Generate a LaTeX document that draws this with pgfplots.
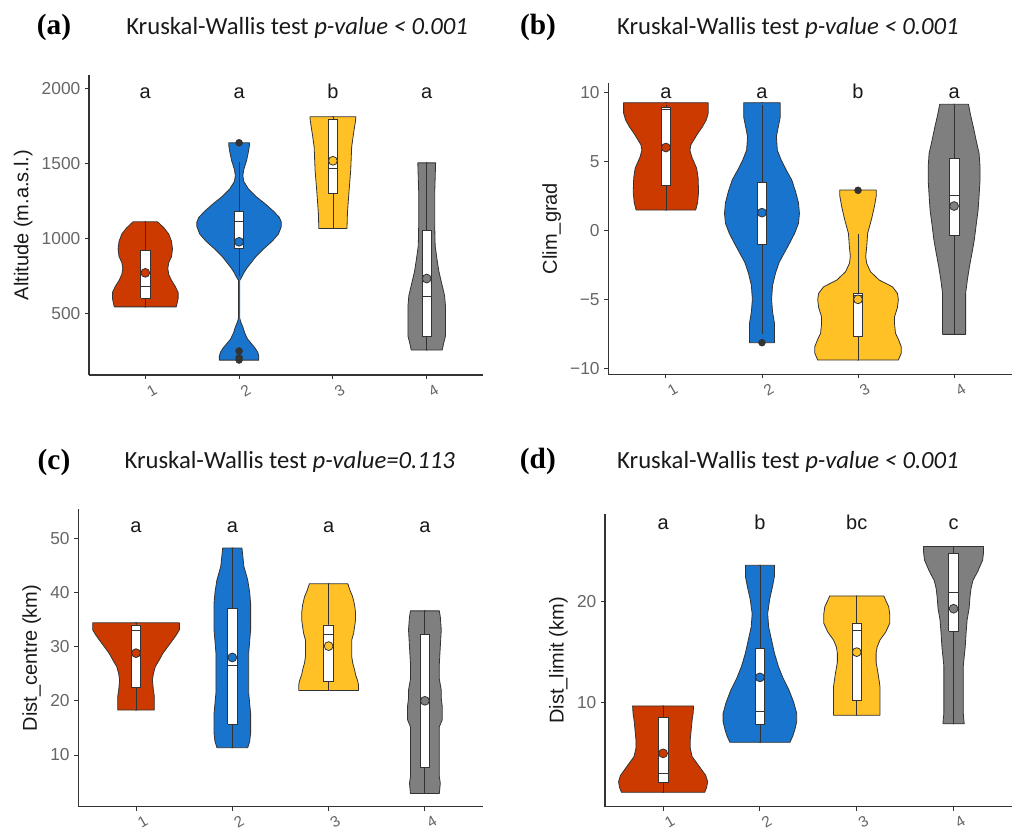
\documentclass[border=0pt]{standalone}
\usepackage{fontspec}
\setmainfont{Liberation Sans}
\newfontfamily\calfont{Carlito}
\newfontfamily\serfont{Liberation Serif}
\usepackage{pgfplots}
\pgfplotsset{compat=1.18}
\usepackage{pgfplotstable}

\definecolor{cR}{HTML}{CC3A00}
\definecolor{cB}{HTML}{1874CD}
\definecolor{cY}{HTML}{FFC125}
\definecolor{cG}{HTML}{7F7F7F}
\definecolor{ink}{HTML}{333333}

% violin outlines: y and half width (first/last rows close the half at the centre)
% ---- (a) Altitude
\pgfplotstableread{
y w
544 -0.01
544 0.33
570 0.34
600 0.35
640 0.35
680 0.32
720 0.28
760 0.25
800 0.24
840 0.25
880 0.28
930 0.29
980 0.28
1030 0.25
1070 0.2
1100 0.15
1111 0.13
1111 -0.01
}\vAa
\pgfplotstableread{
y w
189 -0.01
189 0.21
215 0.21
240 0.2
270 0.17
300 0.13
330 0.09
370 0.06
410 0.04
440 0.02
470 0.005
720 0.005
745 0.03
770 0.05
800 0.08
840 0.13
880 0.18
930 0.26
980 0.35
1030 0.42
1080 0.45
1110 0.45
1140 0.43
1180 0.37
1230 0.28
1280 0.18
1330 0.1
1380 0.05
1420 0.04
1460 0.05
1520 0.08
1580 0.1
1620 0.11
1638 0.11
1638 -0.01
}\vAb
\pgfplotstableread{
y w
1067 -0.01
1067 0.15
1170 0.155
1300 0.17
1456 0.19
1611 0.2
1700 0.22
1780 0.24
1811 0.245
1811 -0.01
}\vAc
\pgfplotstableread{
y w
256 -0.01
256 0.165
300 0.18
350 0.2
450 0.2
550 0.2
620 0.19
700 0.16
780 0.13
860 0.11
950 0.09
1100 0.085
1300 0.085
1504 0.095
1504 -0.01
}\vAd
% ---- (b) Clim_grad
\pgfplotstableread{
y w
1.47 -0.01
1.47 0.31
2.0 0.33
2.8 0.34
3.8 0.335
4.5 0.32
5.3 0.27
5.8 0.25
6.2 0.26
7.0 0.33
7.5 0.38
8.0 0.42
8.48 0.44
9.25 0.44
9.25 -0.01
}\vBa
\pgfplotstableread{
y w
-8.14 -0.01
-8.14 0.13
-7.5 0.13
-6.74 0.13
-5.9 0.11
-5.0 0.1
-4.0 0.11
-3.12 0.14
-2.3 0.18
-1.67 0.23
-0.9 0.29
-0.22 0.34
0.5 0.38
1.23 0.39
2.0 0.38
2.8 0.35
3.65 0.31
4.4 0.25
5.1 0.2
5.8 0.16
6.79 0.15
7.5 0.17
8.2 0.19
9.25 0.19
9.25 -0.01
}\vBb
\pgfplotstableread{
y w
-9.4 -0.01
-9.4 0.42
-8.9 0.45
-8.43 0.45
-7.9 0.42
-7.46 0.39
-6.8 0.38
-6.26 0.38
-5.6 0.41
-5.0 0.42
-4.57 0.41
-4.1 0.36
-3.6 0.22
-3.0 0.13
-2.4 0.09
-1.9 0.08
-1.2 0.09
-0.22 0.1
0.8 0.14
1.71 0.17
2.5 0.19
2.92 0.19
2.92 -0.01
}\vBc
\pgfplotstableread{
y w
-7.54 -0.01
-7.54 0.12
-5.5 0.12
-4.57 0.12
-3.5 0.14
-2.63 0.16
-1.5 0.19
-0.7 0.21
0.4 0.23
1.47 0.25
2.5 0.26
3.65 0.27
4.6 0.27
5.58 0.26
6.5 0.23
7.5 0.2
8.4 0.17
9.13 0.15
9.13 -0.01
}\vBd
% ---- (c) Dist_centre
\pgfplotstableread{
y w
18.3 -0.01
18.3 0.19
19.5 0.19
20.8 0.19
22.0 0.18
23.8 0.17
25.0 0.18
26.3 0.2
27.5 0.24
28.8 0.28
30.0 0.33
31.2 0.38
32.2 0.42
33.1 0.45
34.4 0.45
34.4 -0.01
}\vCa
\pgfplotstableread{
y w
11.35 -0.01
11.35 0.16
12.5 0.18
14.0 0.19
16.0 0.19
17.7 0.19
19.5 0.18
21.5 0.17
23.8 0.17
26.0 0.17
28.8 0.17
31.0 0.18
33.1 0.19
35.5 0.19
38.0 0.19
40.0 0.18
42.3 0.16
44.8 0.12
46.5 0.11
48.2 0.1
48.2 -0.01
}\vCb
\pgfplotstableread{
y w
21.9 -0.01
21.9 0.31
23.0 0.31
23.8 0.3
24.8 0.28
25.7 0.27
27.0 0.25
28.2 0.24
29.7 0.24
31.2 0.24
32.5 0.26
33.7 0.27
35.0 0.28
36.2 0.28
37.7 0.27
39.2 0.25
40.5 0.22
41.6 0.2
41.6 -0.01
}\vCc
\pgfplotstableread{
y w
2.9 -0.01
2.9 0.15
4.8 0.16
6.0 0.15
8.5 0.15
12.0 0.15
15.2 0.15
16.5 0.18
17.7 0.18
19.0 0.18
20.5 0.17
22.0 0.17
24.0 0.15
26.9 0.15
30.0 0.16
33.1 0.17
35.5 0.16
36.6 0.15
36.6 -0.01
}\vCd
% ---- (d) Dist_limit
\pgfplotstableread{
y w
1.12 -0.01
1.12 0.43
1.6 0.45
2.18 0.46
2.8 0.44
3.33 0.4
4.0 0.35
4.65 0.3
5.5 0.28
6.3 0.28
7.3 0.29
8.28 0.3
8.9 0.31
9.67 0.315
9.67 -0.01
}\vDa
\pgfplotstableread{
y w
6.07 -0.01
6.07 0.31
6.7 0.34
7.3 0.36
8.1 0.38
8.94 0.38
10.0 0.35
11.25 0.3
12.4 0.24
13.6 0.19
14.9 0.15
16.2 0.12
17.5 0.09
18.8 0.08
20.2 0.1
21.5 0.13
22.5 0.15
23.6 0.15
23.6 -0.01
}\vDb
\pgfplotstableread{
y w
8.75 -0.01
8.75 0.24
9.93 0.24
11.0 0.24
11.6 0.24
12.9 0.22
14.0 0.2
14.9 0.2
15.5 0.21
16.2 0.24
17.0 0.3
17.85 0.34
18.8 0.34
19.5 0.33
20.1 0.3
20.56 0.28
20.56 -0.01
}\vDc
\pgfplotstableread{
y w
7.9 -0.01
7.9 0.11
9.0 0.1
10.3 0.1
12.0 0.1
13.6 0.1
15.5 0.12
17.0 0.13
18.2 0.14
19.3 0.16
20.5 0.17
21.3 0.18
22.1 0.2
23.0 0.25
24.1 0.3
24.9 0.31
25.45 0.31
25.45 -0.01
}\vDd

\newcommand{\violin}[3]{%
  \addplot[vio, fill=#2] table[x expr=#1+\thisrow{w}, y=y] {#3};
  \addplot[vio, fill=#2] table[x expr=#1-\thisrow{w}, y=y] {#3};
}
% box: position, lower whisker, lower quartile, median, upper quartile, upper whisker
\newcommand{\bbox}[6]{%
  \pgfmathsetmacro\bL{#1-0.05}\pgfmathsetmacro\bR{#1+0.05}%
  \addplot[ln] coordinates {(#1,#2) (#1,#6)};
  \addplot[bxf] coordinates {(\bL,#3) (\bR,#3) (\bR,#5) (\bL,#5) (\bL,#3)};
  \addplot[ln] coordinates {(\bL,#4) (\bR,#4)};
}

\pgfplotsset{
  vio/.style={draw=ink, line width=0.6pt, line join=round},
  ln/.style={draw=ink, line width=0.6pt},
  bxf/.style={draw=ink, line width=0.6pt, fill=white, line join=miter},
  mn/.style={only marks, mark=*, mark size=3.3pt,
    mark options={fill=#1, draw=ink, line width=0.6pt}},
  outl/.style={only marks, mark=*, mark size=2.6pt,
    mark options={fill=ink, draw=ink}},
  panel/.style={scale only axis, anchor=south west, clip=false,
    xmin=0.4, xmax=4.6, xtick={1,2,3,4},
    axis x line*=bottom, axis y line*=left,
    axis line style={draw=ink, line width=0.9pt, -},
    tick align=outside, major tick length=3pt,
    tick style={draw=ink, line width=0.7pt},
    /pgf/number format/assume math mode=true,
    /pgf/number format/1000 sep={},
    yticklabel style={font=\fontsize{13}{13}\selectfont, text=black!60},
    xticklabel style={font=\fontsize{11.5}{11.5}\selectfont, text=black!60,
      rotate=30, anchor=center, yshift=-10pt},
    ylabel style={font=\fontsize{15}{15}\selectfont, text=black!90},
  },
}
\tikzset{
  lab/.style={font=\fontsize{15}{15}\selectfont, text=black!90, anchor=base},
  ttl/.style={font=\calfont\fontsize{18.5}{18.5}\selectfont, text=black!90},
  tag/.style={font=\serfont\bfseries\fontsize{22}{22}\selectfont},
}

\begin{document}
\begin{tikzpicture}
\path[use as bounding box] (0,0) rectangle (760.5pt,624pt);

% (a)
\begin{axis}[panel, at={(66.75pt,342.75pt)}, width=295.5pt, height=225pt,
  ymin=90, ymax=2090, ytick={500,1000,1500,2000},
  ylabel={Altitude (m.a.s.l.)}]
\violin{1}{cR}{\vAa}
\violin{2}{cB}{\vAb}
\violin{3}{cY}{\vAc}
\violin{4}{cG}{\vAd}
\bbox{1}{544}{600}{678}{918}{1111}
\bbox{2}{750}{933}{1111}{1178}{1511}
\bbox{3}{1067}{1300}{1467}{1793}{1811}
\bbox{4}{256}{344}{616}{1056}{1504}
\addplot[outl] coordinates {(2,1638) (2,250) (2,205) (2,190)};
\addplot[mn=cR] coordinates {(1,771)};
\addplot[mn=cB] coordinates {(2,978)};
\addplot[mn=cY] coordinates {(3,1518)};
\addplot[mn=cG] coordinates {(4,733)};
\node[lab] at (axis cs:1,1933) {a};
\node[lab] at (axis cs:2,1933) {a};
\node[lab] at (axis cs:3,1933) {b};
\node[lab] at (axis cs:4,1933) {a};
\node[ttl] at (axis description cs:0.528,1.157) {Kruskal-Wallis test \textit{p-value < 0.001}};
\node[tag] at (axis description cs:-0.089,1.157) {(a)};
\end{axis}

% (b)
\begin{axis}[panel, at={(456.2pt,343.3pt)}, width=302.6pt, height=218.7pt,
  ymin=-10.43, ymax=10.7, ytick={-10,-5,0,5,10},
  yticklabels={−10,−5,0,5,10},
  ylabel={Clim\_grad}]
\violin{1}{cR}{\vBa}
\violin{2}{cB}{\vBb}
\violin{3}{cY}{\vBc}
\violin{4}{cG}{\vBd}
\bbox{1}{1.5}{3.29}{8.77}{8.9}{9.1}
\bbox{2}{-7.5}{-0.99}{1.3}{3.45}{9.1}
\bbox{3}{-9.4}{-7.66}{-4.7}{-4.57}{-0.3}
\bbox{4}{-7.5}{-0.34}{2.56}{5.22}{9.1}
\addplot[outl] coordinates {(2,-8.14) (3,2.9)};
\addplot[mn=cR] coordinates {(1,6.0)};
\addplot[mn=cB] coordinates {(2,1.28)};
\addplot[mn=cY] coordinates {(3,-5.0)};
\addplot[mn=cG] coordinates {(4,1.76)};
\node[lab] at (axis cs:1,9.57) {a};
\node[lab] at (axis cs:2,9.57) {a};
\node[lab] at (axis cs:3,9.57) {b};
\node[lab] at (axis cs:4,9.57) {a};
\node[ttl] at (axis description cs:0.445,1.188) {Kruskal-Wallis test \textit{p-value < 0.001}};
\node[tag] at (axis description cs:-0.174,1.188) {(b)};
\end{axis}

% (c)
\begin{axis}[panel, at={(58.7pt,19pt)}, width=303.3pt, height=223pt,
  ymin=0.46, ymax=55.35, ytick={10,20,30,40,50},
  ylabel={Dist\_centre (km)}]
\violin{1}{cR}{\vCa}
\violin{2}{cB}{\vCb}
\violin{3}{cY}{\vCc}
\violin{4}{cG}{\vCd}
\bbox{1}{18.3}{22.5}{33.0}{34.0}{34.4}
\bbox{2}{11.35}{15.7}{26.6}{37.0}{48.2}
\bbox{3}{21.9}{23.5}{32.3}{34.0}{41.6}
\bbox{4}{2.9}{7.7}{20.0}{32.2}{36.6}
\addplot[mn=cR] coordinates {(1,28.8)};
\addplot[mn=cB] coordinates {(2,28.0)};
\addplot[mn=cY] coordinates {(3,30.1)};
\addplot[mn=cG] coordinates {(4,20.0)};
\node[lab] at (axis cs:1,51.1) {a};
\node[lab] at (axis cs:2,51.1) {a};
\node[lab] at (axis cs:3,51.1) {a};
\node[lab] at (axis cs:4,51.1) {a};
\node[ttl] at (axis description cs:0.523,1.159) {Kruskal-Wallis test \textit{p-value=0.113}};
\node[tag] at (axis description cs:-0.06,1.159) {(c)};
\end{axis}

% (d)
\begin{axis}[panel, at={(453.75pt,19pt)}, width=305pt, height=219.3pt,
  ymin=-0.3, ymax=28.65, ytick={10,20},
  ylabel={Dist\_limit (km)}]
\violin{1}{cR}{\vDa}
\violin{2}{cB}{\vDb}
\violin{3}{cY}{\vDc}
\violin{4}{cG}{\vDd}
\bbox{1}{1.12}{2.08}{3.0}{8.55}{9.67}
\bbox{2}{6.07}{7.8}{9.1}{15.4}{23.6}
\bbox{3}{8.75}{10.2}{17.2}{17.8}{20.56}
\bbox{4}{7.9}{17.1}{20.9}{24.8}{25.45}
\addplot[mn=cR] coordinates {(1,4.98)};
\addplot[mn=cB] coordinates {(2,12.5)};
\addplot[mn=cY] coordinates {(3,15.0)};
\addplot[mn=cG] coordinates {(4,19.3)};
\node[lab] at (axis cs:1,27.1) {a};
\node[lab] at (axis cs:2,27.1) {b};
\node[lab] at (axis cs:3,27.1) {bc};
\node[lab] at (axis cs:4,27.1) {c};
\node[ttl] at (axis description cs:0.45,1.179) {Kruskal-Wallis test \textit{p-value < 0.001}};
\node[tag] at (axis description cs:-0.165,1.179) {(d)};
\end{axis}
\end{tikzpicture}
\end{document}
